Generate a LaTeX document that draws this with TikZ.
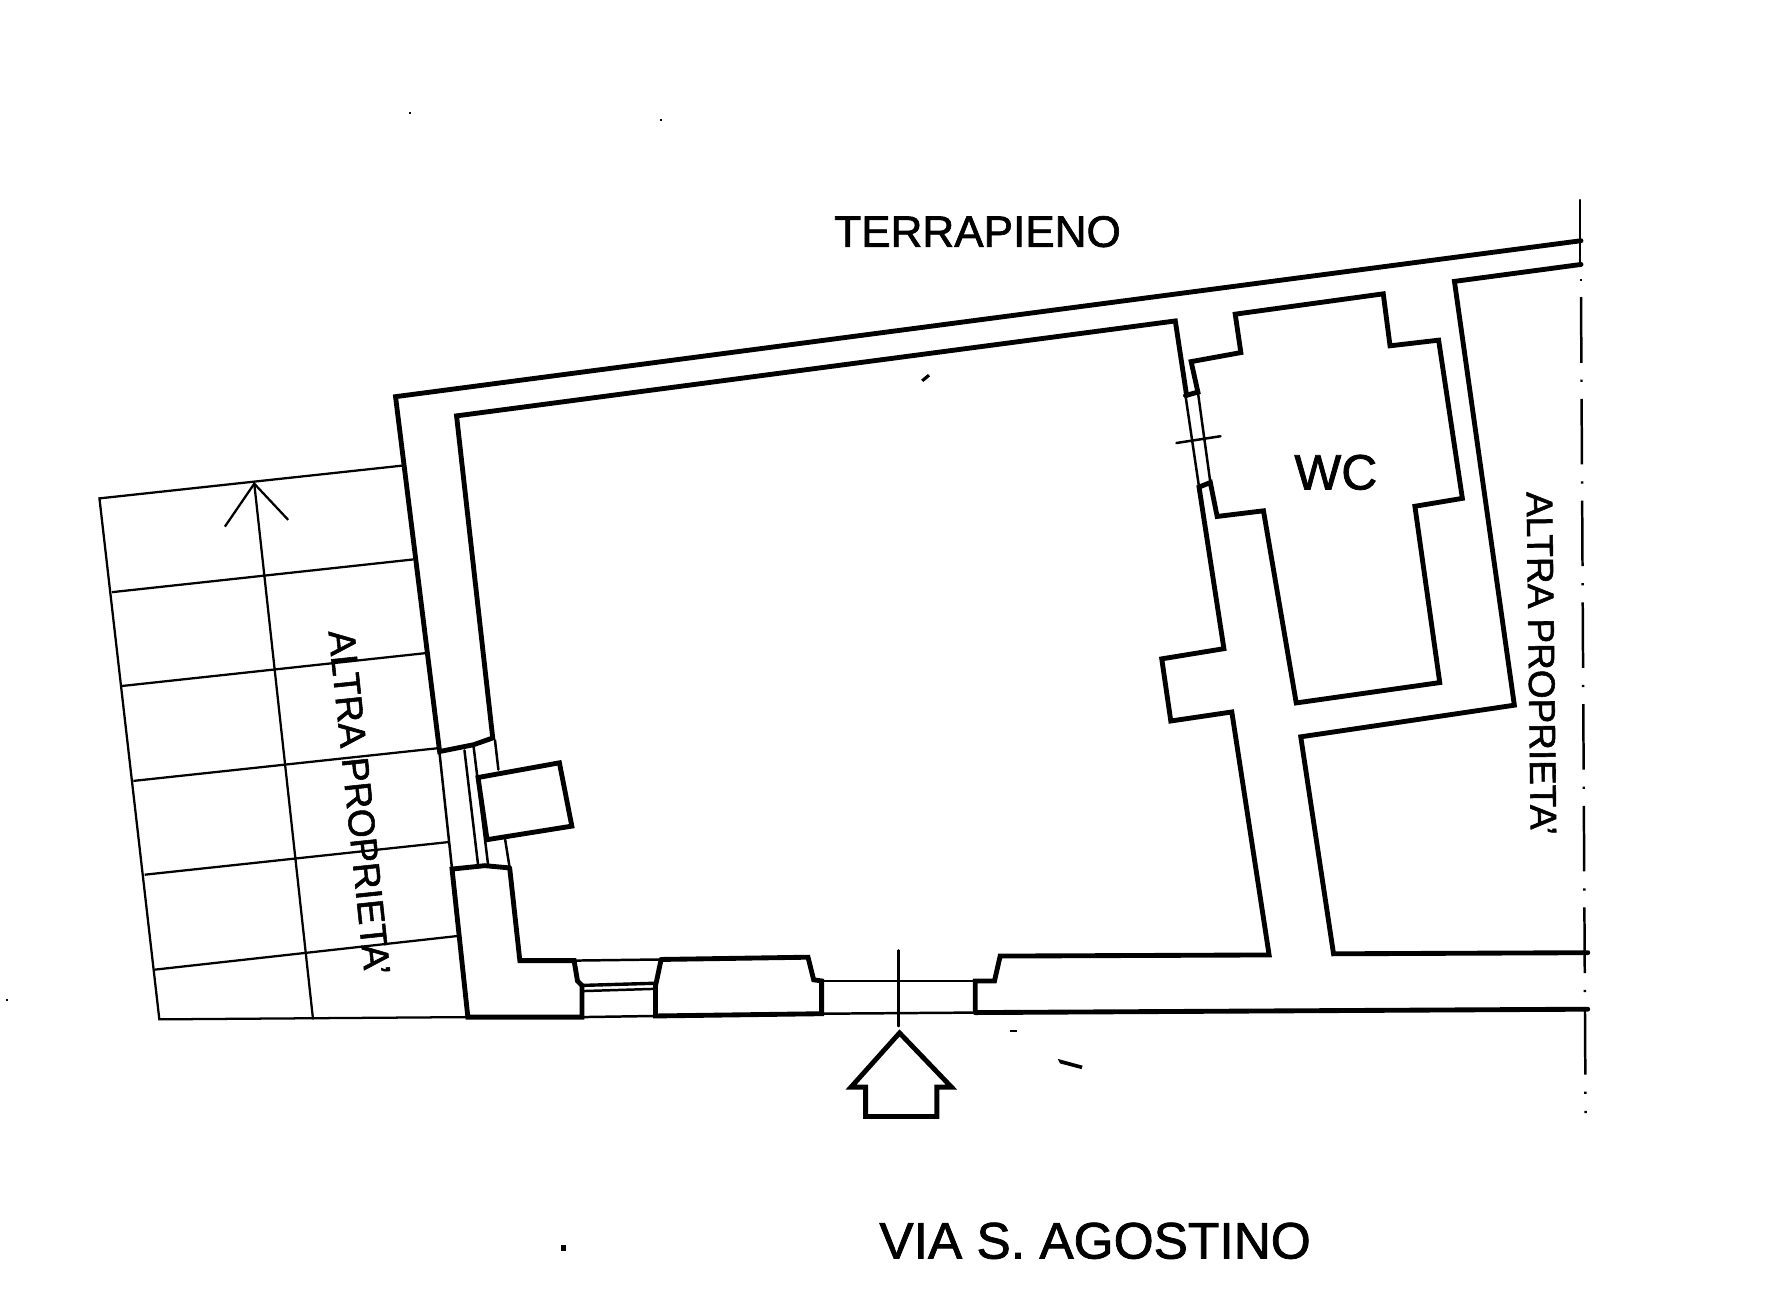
\documentclass[tikz,border=0pt]{standalone}
\usepackage{fontspec}
\setmainfont[FakeBold=1.5]{Liberation Sans}
\tikzset{
  wall/.style={draw=black,line width=4.3pt,line join=miter,line cap=round},
  thin line/.style={draw=black,line width=2.2pt,line cap=round},
  grid line/.style={draw=black,line width=2pt},
  axis line/.style={draw=black,line width=2.2pt,dash pattern=on 58pt off 15pt on 2pt off 15pt},
  speck/.style={fill=black,draw=none},
  label/.style={inner sep=0pt,text=black},
}
\newcommand{\fs}[1]{\fontsize{#1}{#1}\selectfont}
\begin{document}
\begin{tikzpicture}[x=1pt,y=-1pt]
\useasboundingbox (0,0) rectangle (1568,1140);
\fill[white] (0,0) rectangle (1568,1140);
% grid of neighbouring property
\draw[grid line] (356,412) -- (88,441) -- (141,902) -- (414,900);
\draw[grid line] (99,524) -- (366,495);
\draw[grid line] (108,607) -- (376,578);
\draw[grid line] (118,691) -- (388,662);
\draw[grid line] (128,774) -- (398,745);
\draw[grid line] (137,858) -- (407,828);
\draw[grid line] (225,428) -- (277,902);
\draw[grid line] (199,466) -- (225,428) -- (255,460);
% outer walls
\draw[wall] (1399,213) -- (350,351) -- (389,665) -- (419,659) -- (436,653) -- (404,368) -- (1040,284) -- (1050,350);
\draw[wall] (1049,350) -- (1060,347) -- (1054,320) -- (1098,312) -- (1093,278) -- (1224,260) -- (1230,306) -- (1273,301) -- (1294,441) -- (1252,448) -- (1274,604) -- (1147,622) -- (1118,452) -- (1077,457) -- (1071,427) -- (1061,431) -- (1083,574) -- (1028,583) -- (1036,638) -- (1090,630) -- (1123,845) -- (885,846) -- (880,868) -- (863,868) -- (863,896);
\draw[wall] (1399,234) -- (1287,249) -- (1340,624) -- (1151,652) -- (1180,844) -- (1405,843);
\draw[wall] (863,896) -- (1405,893);
% left side and bottom
\draw[wall] (451,768) -- (460,850) -- (508,850) -- (511,868) -- (515,872) -- (515,900) -- (414,900) -- (400,769) -- (429,766) -- (451,768);
\draw[wall] (585,849) -- (581,868) -- (580,872) -- (580,899) -- (727,897) -- (727,868) -- (720,867) -- (715,847) -- (585,849);
\draw[thin line] (508,850) -- (585,849);
\draw[wall,line width=3pt] (514,872) -- (581,870);
\draw[thin line] (515,877) -- (580,875);
\draw[thin line] (515,900) -- (580,899);
\draw[thin line] (727,868) -- (863,868);
\draw[thin line] (727,897) -- (863,896);
\draw[thin line] (795,841) -- (795,908);
% window on left wall
\draw[thin line] (389,667) -- (400,769);
\draw[thin line] (411,664) -- (423,765);
\draw[thin line] (419,660) -- (432,766);
\draw[thin line] (438,655) -- (441,681);
\draw[thin line] (447,743) -- (451,768);
\draw[wall] (423,688) -- (495,675) -- (506,731) -- (431,743) -- cycle;
% door to WC
\draw[thin line] (1049,350) -- (1061,431);
\draw[thin line] (1060,347) -- (1071,427);
\draw[thin line] (1041,392) -- (1080,386);
% boundary line
\draw[thin line] (1398,177) -- (1398,234);
\draw[axis line] (1399,263) -- (1403,985);
\fill[speck] (1398,247) rectangle (1400,249);
% entrance arrow
\draw[wall] (796,914) -- (842,962) -- (829,962) -- (829,988) -- (766,988) -- (766,962) -- (753,962) -- cycle;
% scanning specks
\fill[speck] (815,336) -- (821,331) -- (823,333) -- (817,338) -- cycle;
\fill[speck] (936,937) -- (958,943) -- (957,946) -- (938,941) -- cycle;
\fill[speck] (496,1102) rectangle (501,1107);
\fill[speck] (894,911) rectangle (900,913);
\fill[speck] (5,884) rectangle (7,886);
\fill[speck] (584,105) rectangle (586,107);
\fill[speck] (362,99) rectangle (364,101);
% labels
\node[label] (terrapieno) at (865,205) {\fs{39}TERRAPIENO};
\node[label] (via) at (969,1098) {\fs{45.5}VIA S. AGOSTINO};
\node[label] (wc) at (1182,418) {\fs{44}WC};
\node[label,rotate=-89.3] (altrar) at (1364,587) {\fs{32.7}ALTRA PROPRIETA'};
\node[label,rotate=-84] (altral) at (318,710) {\fs{33}ALTRA PROPRIETA'};
\end{tikzpicture}
\end{document}
